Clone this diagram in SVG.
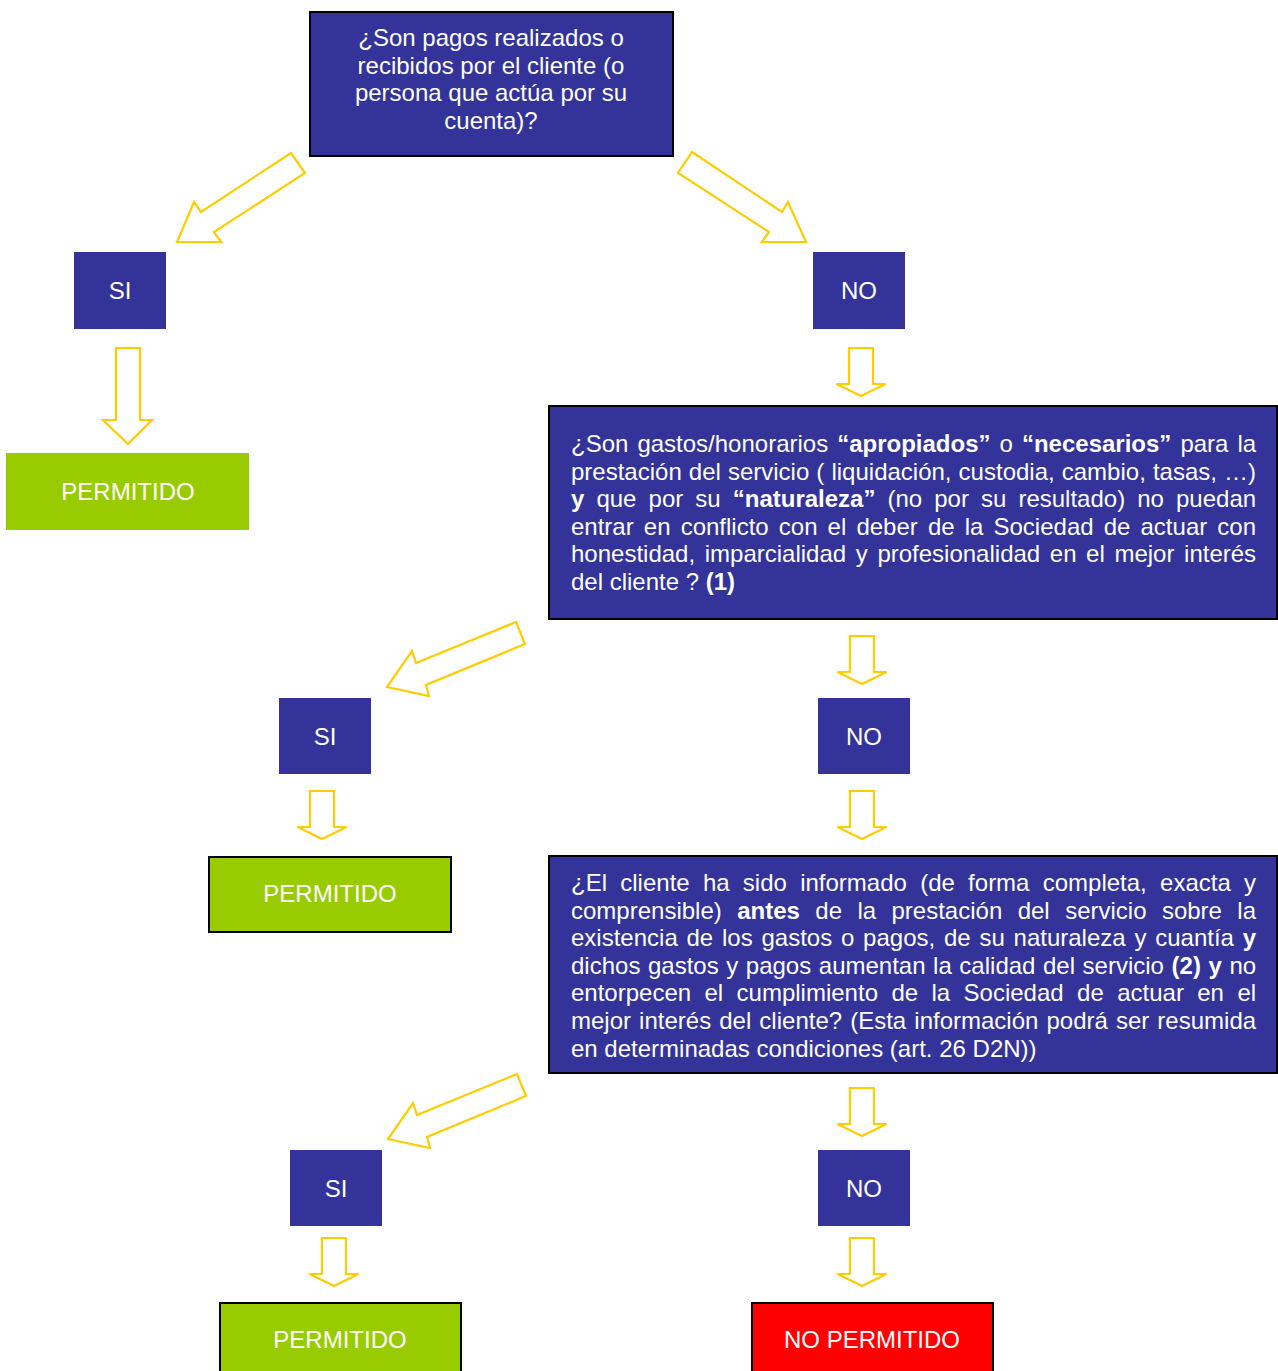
<svg xmlns="http://www.w3.org/2000/svg" width="1278" height="1371" viewBox="0 0 1278 1371">
<style>
text{font-family:"Liberation Sans",Arial,sans-serif;font-size:24px;fill:#fff}
.c{text-anchor:middle}
.b{font-weight:bold}
.navy{fill:#333399}
.green{fill:#99CC00}
.red{fill:#FF0000}
.bd{stroke:#000;stroke-width:2}
.arr{fill:#fff;stroke:#FFCC00;stroke-width:2.2;stroke-linejoin:miter}
</style>
<defs>
<path id="down" d="M-12,0 H12 V36 H24.5 L0,48 L-24.5,36 H-12 Z"/>
</defs>
<rect width="1278" height="1371" fill="#fff"/>

<g id="connectors">
<polygon class="arr" points="291,153 305,173 214,232 221,242 177,242 194,202 201,212"/>
<polygon class="arr" points="692,152 782,212 788,202 806,242 762,242 769,232 678,173"/>
<polygon class="arr" points="116,348 140,348 140,420 152,420 128,444 103,420 116,420"/>
<use href="#down" class="arr" x="861" y="348"/>
<polygon class="arr" points="516,622 525,644 426,685 429,696 387,687 412,651 416,663"/>
<use href="#down" class="arr" x="862" y="636"/>
<use href="#down" class="arr" x="322" y="791"/>
<use href="#down" class="arr" x="862" y="791"/>
<polygon class="arr" transform="translate(1,452)" points="516,622 525,644 426,685 429,696 387,687 412,651 416,663"/>
<use href="#down" class="arr" x="862" y="1088"/>
<use href="#down" class="arr" x="334" y="1238"/>
<use href="#down" class="arr" x="862" y="1238"/>
</g>

<g id="q1">
<rect class="navy bd" x="310" y="12" width="363" height="144"/>
<text class="c" x="491" y="46">¿Son pagos realizados o</text>
<text class="c" x="491" y="73.6">recibidos por el cliente (o</text>
<text class="c" x="491" y="101.2">persona que actúa por su</text>
<text class="c" x="491" y="128.8">cuenta)?</text>
</g>

<g id="si1">
<rect class="navy" x="74" y="252" width="92" height="77"/>
<text class="c" x="120" y="299">SI</text>
</g>
<g id="no1">
<rect class="navy" x="813" y="252" width="92" height="77"/>
<text class="c" x="859" y="299">NO</text>
</g>
<g id="permitido1">
<rect class="green" x="6" y="453" width="243" height="77"/>
<text class="c" x="128" y="500">PERMITIDO</text>
</g>

<g id="q2">
<rect class="navy bd" x="549" y="406" width="728" height="213"/>
<text x="571" y="452" word-spacing="2.35">¿Son gastos/honorarios <tspan class="b">“apropiados”</tspan> o <tspan class="b">“necesarios”</tspan> para la</text>
<text x="571" y="479.6" word-spacing="0.42">prestación del servicio ( liquidación, custodia, cambio, tasas, …)</text>
<text x="571" y="507.2" word-spacing="5.4"><tspan class="b">y</tspan> que por su <tspan class="b">“naturaleza”</tspan> (no por su resultado) no puedan</text>
<text x="571" y="534.8" word-spacing="3.45">entrar en conflicto con el deber de la Sociedad de actuar con</text>
<text x="571" y="562.4" word-spacing="2.96">honestidad, imparcialidad y profesionalidad en el mejor interés</text>
<text x="571" y="590">del cliente ? <tspan class="b">(1)</tspan></text>
</g>

<g id="si2">
<rect class="navy" x="279" y="698" width="92" height="76"/>
<text class="c" x="325" y="745">SI</text>
</g>
<g id="no2">
<rect class="navy" x="818" y="698" width="92" height="76"/>
<text class="c" x="864" y="745">NO</text>
</g>
<g id="permitido2">
<rect class="green bd" x="209" y="857" width="242" height="75"/>
<text class="c" x="330" y="902">PERMITIDO</text>
</g>

<g id="q3">
<rect class="navy bd" x="549" y="856" width="728" height="217"/>
<text x="571" y="891" word-spacing="6.6">¿El cliente ha sido informado (de forma completa, exacta y</text>
<text x="571" y="918.6" word-spacing="8.76">comprensible) <tspan class="b">antes</tspan> de la prestación del servicio sobre la</text>
<text x="571" y="946.2" word-spacing="2.12">existencia de los gastos o pagos, de su naturaleza y cuantía <tspan class="b">y</tspan></text>
<text x="571" y="973.8" word-spacing="0.91">dichos gastos y pagos aumentan la calidad del servicio <tspan class="b">(2) y</tspan> no</text>
<text x="571" y="1001.4" word-spacing="6.74">entorpecen el cumplimiento de la Sociedad de actuar en el</text>
<text x="571" y="1029" word-spacing="1.43">mejor interés del cliente? (Esta información podrá ser resumida</text>
<text x="571" y="1056.6">en determinadas condiciones (art. 26 D2N))</text>
</g>

<g id="si3">
<rect class="navy" x="290" y="1150" width="92" height="76"/>
<text class="c" x="336" y="1197">SI</text>
</g>
<g id="no3">
<rect class="navy" x="818" y="1150" width="92" height="76"/>
<text class="c" x="864" y="1197">NO</text>
</g>
<g id="permitido3">
<rect class="green bd" x="220" y="1303" width="241" height="80"/>
<text class="c" x="340" y="1348">PERMITIDO</text>
</g>
<g id="nopermitido">
<rect class="red bd" x="752" y="1303" width="241" height="80"/>
<text class="c" x="872" y="1348">NO PERMITIDO</text>
</g>
</svg>
